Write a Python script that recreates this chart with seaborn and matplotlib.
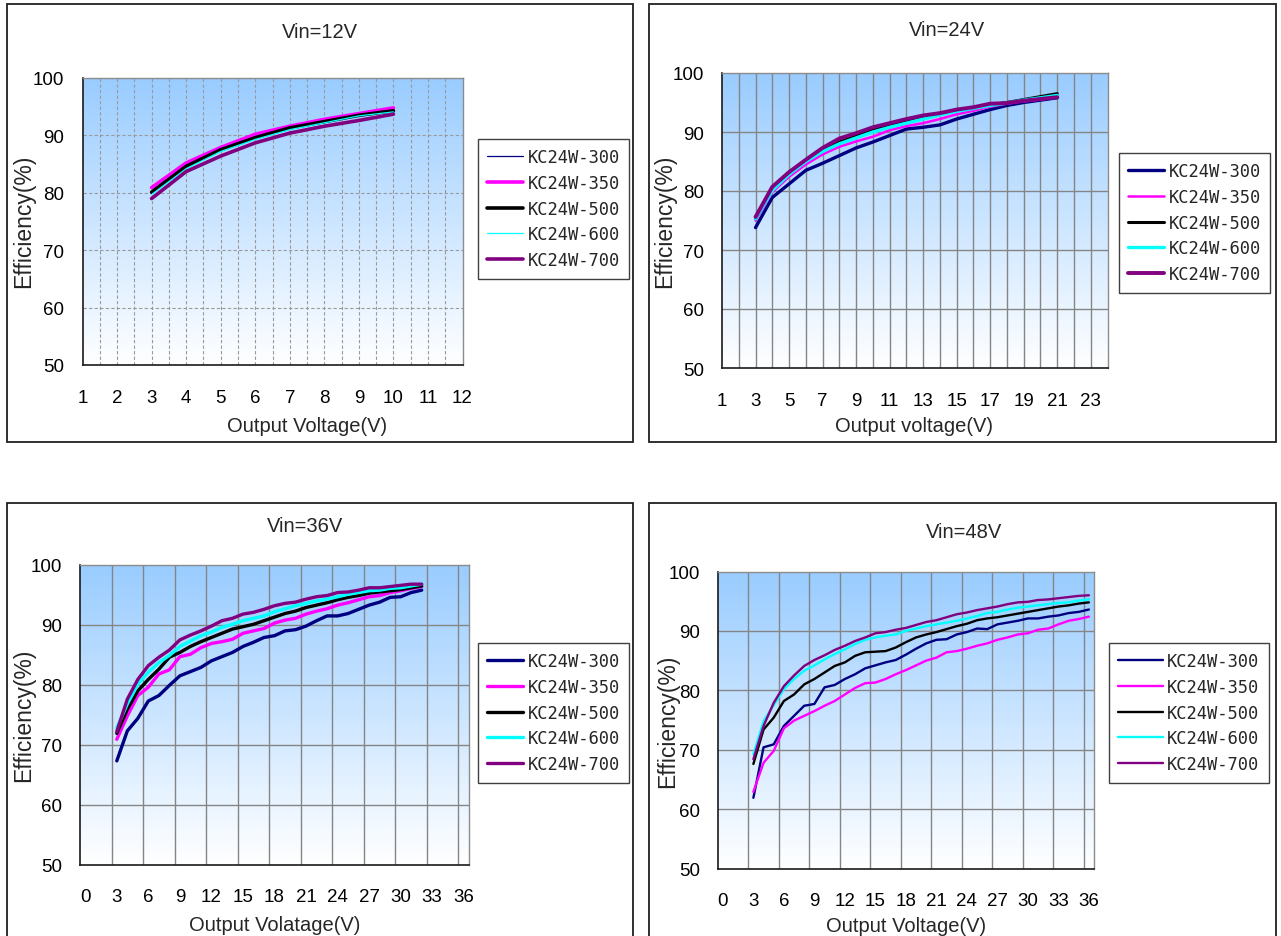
import numpy as np
import pandas as pd
import matplotlib
matplotlib.use("Agg")
import matplotlib.pyplot as plt
import seaborn as sns
from matplotlib.colors import LinearSegmentedColormap
from matplotlib.patches import Rectangle
from matplotlib.lines import Line2D
from matplotlib.font_manager import FontProperties

# ---------------- data ----------------
models = ["KC24W-300", "KC24W-350", "KC24W-500", "KC24W-600", "KC24W-700"]

vout_12 = [3, 4, 5, 6, 7, 8, 9, 10]
eff_12_300 = [80.2, 84.8, 87.6, 89.7, 91.3, 92.5, 93.6, 94.4]
eff_12_350 = [80.9, 85.2, 87.9, 90.2, 91.6, 92.8, 93.8, 94.8]
eff_12_500 = [80.1, 84.6, 87.5, 89.6, 91.3, 92.4, 93.5, 94.3]
eff_12_600 = [79.7, 84.2, 87.2, 89.3, 91.0, 92.2, 93.4, 94.1]
eff_12_700 = [79.0, 83.7, 86.4, 88.7, 90.4, 91.6, 92.6, 93.7]

vout_24 = [3, 4, 5, 6, 7, 8, 9, 10, 11, 12, 13, 14, 15, 16, 17, 18, 19, 20, 21]
eff_24_300 = [73.8, 78.9, 81.2, 83.5, 84.7, 86.0, 87.3, 88.3, 89.4, 90.5, 90.8, 91.2, 92.2, 93.0, 93.8, 94.5, 95.0, 95.4, 95.8]
eff_24_350 = [75.0, 79.8, 82.4, 84.5, 86.2, 87.5, 88.4, 89.2, 90.3, 91.0, 91.5, 92.2, 93.0, 93.6, 94.3, 94.8, 95.2, 95.5, 95.9]
eff_24_500 = [75.3, 80.3, 83.0, 85.1, 86.9, 88.3, 89.3, 90.3, 91.1, 91.8, 92.5, 93.1, 93.7, 94.1, 94.6, 95.0, 95.5, 96.0, 96.5]
eff_24_600 = [75.3, 80.1, 82.8, 85.0, 86.7, 88.0, 89.0, 90.0, 90.8, 91.5, 92.2, 92.9, 93.5, 94.0, 94.5, 94.9, 95.4, 95.8, 96.2]
eff_24_700 = [75.6, 80.7, 83.2, 85.3, 87.3, 88.9, 89.8, 90.8, 91.5, 92.2, 92.8, 93.2, 93.8, 94.2, 94.8, 94.9, 95.3, 95.6, 95.9]

vout_36 = list(range(3, 33))
eff_36_300 = [67.3, 72.3, 74.4, 77.3, 78.2, 79.9, 81.5, 82.2, 82.9, 84.0, 84.7, 85.4, 86.4, 87.1, 87.9,
              88.2, 89.0, 89.2, 89.8, 90.7, 91.5, 91.5, 91.9, 92.6, 93.3, 93.8, 94.6, 94.7, 95.4, 95.8]
eff_36_350 = [70.9, 74.8, 78.2, 79.6, 81.8, 82.5, 84.7, 85.1, 86.2, 86.9, 87.2, 87.6, 88.6, 89.0, 89.4,
              90.3, 90.8, 91.1, 91.8, 92.3, 92.7, 93.3, 93.7, 94.2, 94.7, 94.9, 95.4, 95.7, 96.1, 96.4]
eff_36_500 = [71.9, 75.9, 79.0, 80.9, 82.6, 84.6, 85.4, 86.4, 87.2, 87.9, 88.6, 89.3, 89.7, 90.1, 90.7,
              91.3, 91.9, 92.3, 92.9, 93.3, 93.7, 94.2, 94.6, 94.9, 95.3, 95.5, 95.7, 95.9, 96.2, 96.5]
eff_36_600 = [72.8, 76.8, 80.1, 82.1, 83.7, 84.9, 86.4, 87.3, 88.2, 88.8, 89.6, 90.1, 90.7, 91.1, 91.5,
              92.2, 92.7, 93.2, 93.6, 94.0, 94.3, 94.7, 95.1, 95.4, 95.7, 95.8, 96.1, 96.2, 96.5, 96.8]
eff_36_700 = [72.2, 77.6, 80.9, 83.2, 84.6, 85.8, 87.5, 88.3, 89.0, 89.8, 90.7, 91.1, 91.8, 92.1, 92.6,
              93.2, 93.6, 93.8, 94.3, 94.7, 94.9, 95.4, 95.5, 95.8, 96.2, 96.2, 96.4, 96.6, 96.8, 96.8]

vout_48 = list(range(3, 37))
eff_48_300 = [61.9, 70.4, 70.9, 74.0, 75.7, 77.4, 77.7, 80.5, 80.9, 81.9, 82.7, 83.7, 84.2, 84.7, 85.1, 86.0, 87.0,
              87.9, 88.5, 88.6, 89.4, 89.8, 90.4, 90.3, 91.1, 91.4, 91.7, 92.1, 92.1, 92.4, 92.6, 93.0, 93.2, 93.6]
eff_48_350 = [62.9, 67.8, 69.8, 73.6, 74.9, 75.7, 76.5, 77.4, 78.2, 79.3, 80.4, 81.2, 81.3, 81.9, 82.7, 83.4, 84.2,
              85.0, 85.5, 86.4, 86.6, 87.0, 87.5, 87.9, 88.5, 88.9, 89.4, 89.6, 90.2, 90.4, 91.1, 91.7, 92.0, 92.4]
eff_48_500 = [67.6, 73.4, 75.4, 78.2, 79.3, 81.0, 81.9, 83.0, 84.1, 84.7, 85.8, 86.4, 86.5, 86.6, 87.2, 88.1, 88.9,
              89.4, 89.8, 90.3, 90.8, 91.2, 91.8, 92.1, 92.3, 92.6, 92.9, 93.2, 93.5, 93.8, 94.1, 94.3, 94.6, 94.8]
eff_48_600 = [69.2, 74.8, 77.5, 80.2, 81.9, 83.3, 84.2, 85.2, 86.1, 86.9, 87.8, 88.5, 88.9, 89.2, 89.4, 90.0, 90.4,
              90.8, 91.1, 91.4, 91.7, 92.1, 92.5, 93.0, 93.2, 93.6, 93.9, 94.1, 94.3, 94.5, 94.7, 94.8, 95.1, 95.3]
eff_48_700 = [68.4, 74.0, 77.9, 80.7, 82.5, 84.1, 85.1, 85.9, 86.8, 87.5, 88.3, 88.9, 89.6, 89.8, 90.2, 90.5, 91.0,
              91.5, 91.8, 92.3, 92.8, 93.1, 93.5, 93.8, 94.1, 94.5, 94.8, 94.9, 95.2, 95.3, 95.5, 95.7, 95.9, 96.0]

titles = ["Vin=12V", "Vin=24V", "Vin=36V", "Vin=48V"]
xlabels = ["Output Voltage(V)", "Output voltage(V)", "Output Volatage(V)", "Output Voltage(V)"]
ylabel = "Efficiency(%)"
yticks = [50, 60, 70, 80, 90, 100]

# ---------------- styles / layout ----------------
W, H = 1281, 937
palette = dict(zip(models, ["#000080", "#FF00FF", "#000000", "#00FFFF", "#800080"]))

sns.set_style("white")
plt.rcParams["font.family"] = ["Liberation Sans", "DejaVu Sans"]

fig = plt.figure(figsize=(W / 100, H / 100), dpi=100)
fig.patch.set_facecolor("white")


def fx(px):
    return px / W


def fy(py):
    return 1 - py / H


grad_cmap = LinearSegmentedColormap.from_list("bg", ["#FFFFFF", "#99CCFF"])
legend_font = FontProperties(family="DejaVu Sans Mono", size=12.3)

panels = [
    dict(x=vout_12, ys=[eff_12_300, eff_12_350, eff_12_500, eff_12_600, eff_12_700],
         box=(82.5, 79, 462.5, 366), frame=(7, 5, 633, 443),
         xlim=(1, 12), xt=np.arange(1, 13), xtl=[str(v) for v in range(1, 13)],
         gx=np.arange(1.5, 12, 0.5), dashed=True,
         lws=[0.9, 2.6, 2.6, 0.9, 2.6], hl=2.1,
         title=(320, 33), xl=(307, 426), yl=(24, 221), leg=(478, 140)),
    dict(x=vout_24, ys=[eff_24_300, eff_24_350, eff_24_500, eff_24_600, eff_24_700],
         box=(722, 74, 1107.5, 369), frame=(649, 5, 1276, 443),
         xlim=(1, 24), xt=np.arange(1, 24, 2), xtl=[str(v) for v in range(1, 24, 2)],
         gx=np.arange(2, 24, 1), dashed=False,
         lws=[2.4, 1.8, 2.2, 2.4, 2.8], hl=2.1,
         title=(947, 30), xl=(914, 427), yl=(665, 221), leg=(1119, 154)),
    dict(x=vout_36, ys=[eff_36_300, eff_36_350, eff_36_500, eff_36_600, eff_36_700],
         box=(80, 566, 469, 865.5), frame=(7, 504, 633, 950),
         xlim=(-0.5, 36.5), xt=np.arange(0, 37, 3), xtl=[str(v) for v in range(0, 37, 3)],
         gx=np.arange(2.5, 36, 3), dashed=False,
         lws=[2.4, 2.4, 2.4, 2.4, 2.4], hl=2.1,
         title=(305, 527), xl=(275, 926), yl=(24, 715), leg=(478, 644)),
    dict(x=vout_48, ys=[eff_48_300, eff_48_350, eff_48_500, eff_48_600, eff_48_700],
         box=(718, 572.5, 1094, 869.5), frame=(649, 504, 1276, 950),
         xlim=(-0.48, 36.5), xt=np.arange(0, 37, 3), xtl=[str(v) for v in range(0, 37, 3)],
         gx=np.arange(2.5, 36, 3), dashed=False,
         lws=[1.7, 1.7, 1.7, 1.7, 1.7], hl=2.6,
         title=(964, 532), xl=(906, 927), yl=(668, 721), leg=(1109, 644)),
]

for i, p in enumerate(panels):
    # panel frame
    fl, ft, fr, fb = p["frame"]
    fig.add_artist(Rectangle((fx(fl), fy(fb)), fx(fr) - fx(fl), fy(ft) - fy(fb),
                             transform=fig.transFigure, fill=False, edgecolor="#202020",
                             linewidth=1.3, zorder=0))
    l, t, r, b = p["box"]
    ax = fig.add_axes([fx(l), fy(b), fx(r) - fx(l), fy(t) - fy(b)])
    ax.set_facecolor("white")

    # gradient background
    ax.imshow(np.linspace(0, 1, 256).reshape(-1, 1), cmap=grad_cmap, origin="lower",
              extent=(0, 1, 0, 1), transform=ax.transAxes, aspect="auto", zorder=0)

    # data
    df = pd.DataFrame({
        "Vout": np.tile(p["x"], len(models)),
        "Eff": np.concatenate([np.asarray(y, float) for y in p["ys"]]),
        "Model": np.repeat(models, len(p["x"])),
    })
    sns.lineplot(data=df, x="Vout", y="Eff", hue="Model", hue_order=models, palette=palette,
                 size="Model", size_order=models, sizes=dict(zip(models, p["lws"])),
                 sort=False, errorbar=None, legend=False, ax=ax, zorder=3)

    ax.set_xlim(*p["xlim"])
    ax.set_ylim(50, 100)

    # grid lines
    gstyle = dict(color="#858585", linewidth=1.0, zorder=1)
    if p["dashed"]:
        gstyle.update(linestyle=(0, (3, 2)), linewidth=0.8, color="#9A9A9A")
    for gx in p["gx"]:
        ax.axvline(gx, **gstyle)
    for gy in yticks[1:-1]:
        ax.axhline(gy, **gstyle)

    # ticks
    ax.set_yticks(yticks)
    ax.set_yticklabels([str(v) for v in yticks])
    ax.set_xticks(p["xt"])
    ax.set_xticklabels(p["xtl"])
    if i >= 2:
        ax.set_xticks(p["gx"], minor=True)
        ax.tick_params(axis="x", which="major", length=0, pad=17)
        ax.tick_params(axis="x", which="minor", direction="in", length=5, width=1, color="#303030")
    else:
        ax.tick_params(axis="x", which="major", direction="in", length=5, width=1,
                       color="#303030", pad=17)
    ax.tick_params(axis="y", which="major", direction="in", length=5, width=1,
                   color="#303030", pad=13)
    ax.tick_params(axis="both", labelsize=13.5, labelcolor="black")
    ax.set_xlabel("")
    ax.set_ylabel("")

    for side in ["left", "bottom"]:
        ax.spines[side].set_color("#1A1A1A")
        ax.spines[side].set_linewidth(1.2)
        ax.spines[side].set_visible(True)
    for side in ["top", "right"]:
        ax.spines[side].set_color("#8C8C8C")
        ax.spines[side].set_linewidth(1.0)
        ax.spines[side].set_visible(True)

    # texts
    fig.text(fx(p["title"][0]), fy(p["title"][1]), titles[i], ha="center", va="center", fontsize=14.5)
    fig.text(fx(p["xl"][0]), fy(p["xl"][1]), xlabels[i], ha="center", va="center", fontsize=14.5)
    fig.text(fx(p["yl"][0]), fy(p["yl"][1]), ylabel, ha="center", va="center", fontsize=16.5,
             rotation=90)

    # legend
    handles = [Line2D([0], [0], color=palette[m], linewidth=lw) for m, lw in zip(models, p["lws"])]
    leg = ax.legend(handles, models, loc="upper left",
                    bbox_to_anchor=(fx(p["leg"][0]), fy(p["leg"][1])),
                    bbox_transform=fig.transFigure, borderaxespad=0, frameon=True,
                    fancybox=False, framealpha=1, edgecolor="#404040", facecolor="white",
                    prop=legend_font, handlelength=p["hl"], handletextpad=0.25,
                    labelspacing=0.45, borderpad=0.55)
    leg.get_frame().set_linewidth(1.0)

fig.savefig("out.png", dpi=100)
